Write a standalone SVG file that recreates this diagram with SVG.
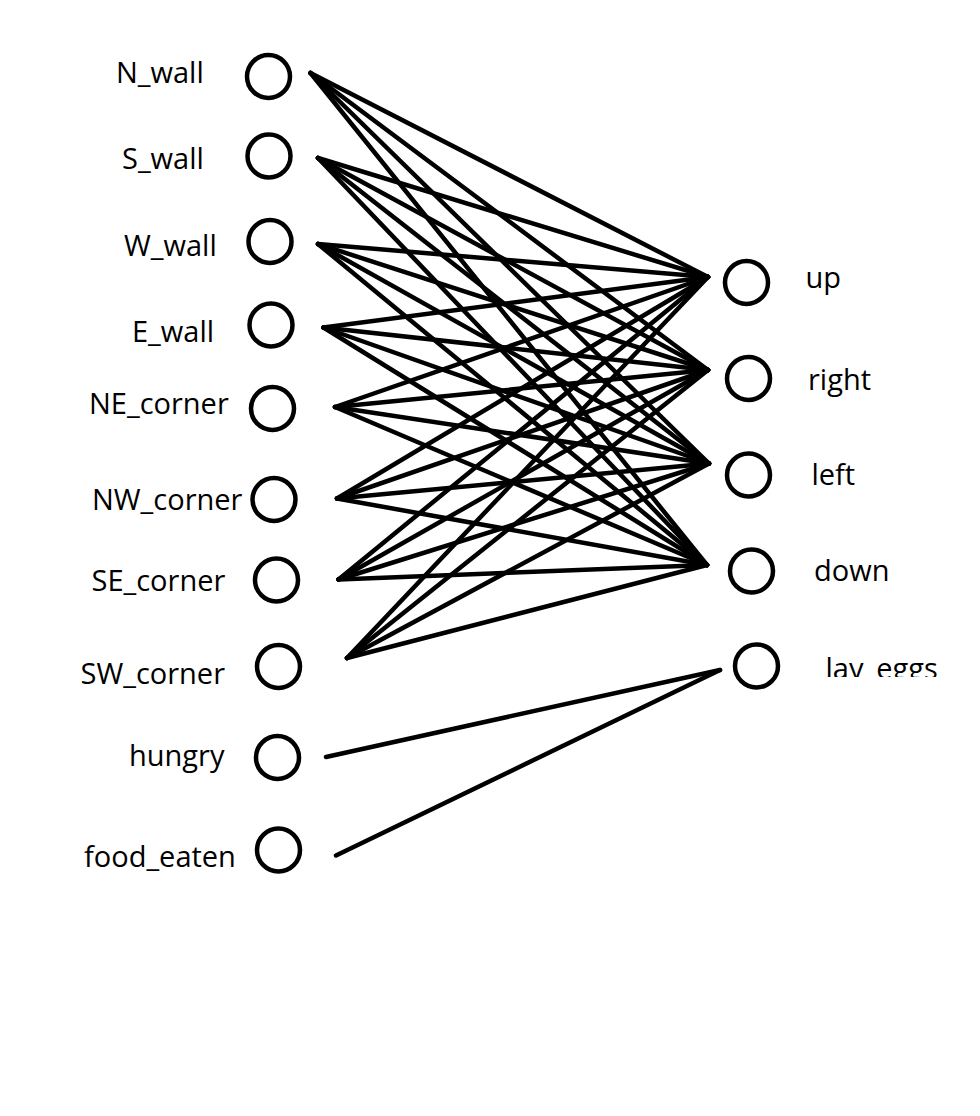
<svg xmlns="http://www.w3.org/2000/svg" width="980" height="1116" viewBox="0 0 980 1116">
<style>
.n{fill:#fff;stroke:#000;stroke-width:4.5}
.t{font-family:"Open Sans","Noto Sans","Liberation Sans",sans-serif;font-size:29px;fill:#000}
.c line{stroke:#000;stroke-width:4.5;stroke-linecap:round}
</style>
<defs><clipPath id="clipEggs"><rect x="780" y="630" width="200" height="47"/></clipPath></defs>
<rect width="980" height="1116" fill="#fff"/>
<g id="connectors" class="c">
<line x1="310.5" y1="73" x2="708" y2="277"/><line x1="310.5" y1="73" x2="708" y2="370"/><line x1="310.5" y1="73" x2="709" y2="463.5"/><line x1="310.5" y1="73" x2="707" y2="565"/>
<line x1="318" y1="158" x2="708" y2="277"/><line x1="318" y1="158" x2="708" y2="370"/><line x1="318" y1="158" x2="709" y2="463.5"/><line x1="318" y1="158" x2="707" y2="565"/>
<line x1="318" y1="244" x2="708" y2="277"/><line x1="318" y1="244" x2="708" y2="370"/><line x1="318" y1="244" x2="709" y2="463.5"/><line x1="318" y1="244" x2="707" y2="565"/>
<line x1="323.5" y1="327.5" x2="708" y2="277"/><line x1="323.5" y1="327.5" x2="708" y2="370"/><line x1="323.5" y1="327.5" x2="709" y2="463.5"/><line x1="323.5" y1="327.5" x2="707" y2="565"/>
<line x1="335" y1="407" x2="708" y2="277"/><line x1="335" y1="407" x2="708" y2="370"/><line x1="335" y1="407" x2="709" y2="463.5"/><line x1="335" y1="407" x2="707" y2="565"/>
<line x1="337" y1="498.5" x2="708" y2="277"/><line x1="337" y1="498.5" x2="708" y2="370"/><line x1="337" y1="498.5" x2="709" y2="463.5"/><line x1="337" y1="498.5" x2="707" y2="565"/>
<line x1="338.5" y1="579.5" x2="708" y2="277"/><line x1="338.5" y1="579.5" x2="708" y2="370"/><line x1="338.5" y1="579.5" x2="709" y2="463.5"/><line x1="338.5" y1="579.5" x2="707" y2="565"/>
<line x1="347" y1="658" x2="708" y2="277"/><line x1="347" y1="658" x2="708" y2="370"/><line x1="347" y1="658" x2="709" y2="463.5"/><line x1="347" y1="658" x2="707" y2="565"/>
<line x1="326" y1="757" x2="720" y2="670"/>
<line x1="336" y1="855.5" x2="720" y2="670"/>
</g>
<g id="N_wall"><circle class="n" cx="268.5" cy="76.5" r="21.5"/><text class="t" x="116" y="83">N_wall</text></g>
<g id="S_wall"><circle class="n" cx="269" cy="156" r="21.5"/><text class="t" x="122" y="168.5">S_wall</text></g>
<g id="W_wall"><circle class="n" cx="270" cy="241.5" r="21.5"/><text class="t" x="124" y="256">W_wall</text></g>
<g id="E_wall"><circle class="n" cx="271" cy="325" r="21.5"/><text class="t" x="132" y="341.5">E_wall</text></g>
<g id="NE_corner"><circle class="n" cx="272.5" cy="408.5" r="21.5"/><text class="t" x="89" y="414">NE_corner</text></g>
<g id="NW_corner"><circle class="n" cx="274" cy="499.5" r="21.5"/><text class="t" x="92" y="510">NW_corner</text></g>
<g id="SE_corner"><circle class="n" cx="276.5" cy="580" r="21.5"/><text class="t" x="91.5" y="590.5">SE_corner</text></g>
<g id="SW_corner"><circle class="n" cx="278.5" cy="666.5" r="21.5"/><text class="t" x="80.5" y="684">SW_corner</text></g>
<g id="hungry"><circle class="n" cx="277.5" cy="757.5" r="21.5"/><text class="t" x="129" y="766">hungry</text></g>
<g id="food_eaten"><circle class="n" cx="278.5" cy="850" r="21.5"/><text class="t" x="84" y="866.5">food_eaten</text></g>
<g id="up"><circle class="n" cx="746.5" cy="282.5" r="21.5"/><text class="t" x="805.5" y="287.5">up</text></g>
<g id="right"><circle class="n" cx="748.5" cy="378.5" r="21.5"/><text class="t" x="808" y="390">right</text></g>
<g id="left"><circle class="n" cx="748.5" cy="475" r="21.5"/><text class="t" x="811.5" y="485">left</text></g>
<g id="down"><circle class="n" cx="751.5" cy="571" r="21.5"/><text class="t" x="814" y="580.5">down</text></g>
<g id="lay_eggs"><circle class="n" cx="756.5" cy="666" r="21.5"/><text class="t" x="825.5" y="679" clip-path="url(#clipEggs)">lay_eggs</text></g>
</svg>
